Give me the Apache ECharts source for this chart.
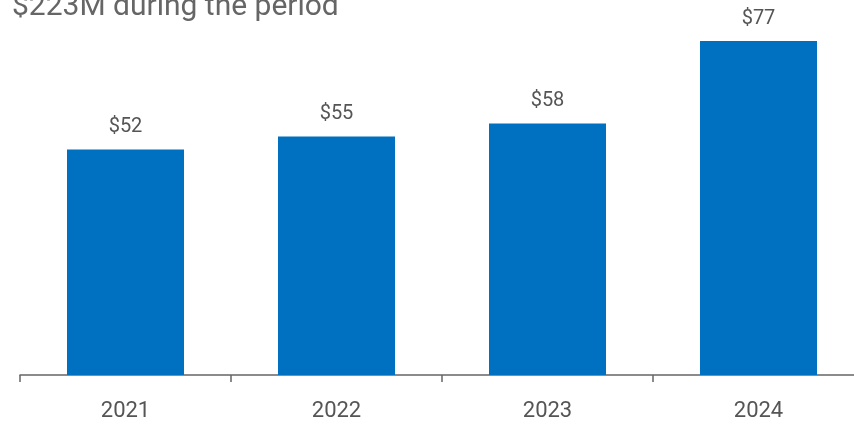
<!DOCTYPE html>
<html><head><meta charset="utf-8">
<script src="https://cdn.jsdelivr.net/npm/echarts@6/dist/echarts.min.js"></script>
<style>html,body{margin:0;padding:0;background:#fff}#c{width:854px;height:424px}</style>
</head><body><div id="c"></div>
<script>
const categories = ['2021', '2022', '2023', '2024'];
const values = [52, 55, 58, 77];
const titleText = '$223M during the period';

const chart = echarts.init(document.getElementById('c'));
chart.setOption({
  animation: false,
  graphic: [{
    type: 'text', left: 12, top: -8,
    style: { text: titleText, fontSize: 30, fill: '#666', fontFamily: 'Roboto' }
  }],
  grid: { left: 20, top: 28, width: 844, height: 347, outerBoundsMode: 'none', containLabel: false },
  xAxis: {
    type: 'category', data: categories,
    axisLine: { lineStyle: { color: '#666', width: 1.5 } },
    axisTick: { show: true, length: 7, lineStyle: { color: '#666', width: 1.5 } },
    axisLabel: { color: '#555', fontSize: 22, fontFamily: 'Roboto', margin: 25 }
  },
  yAxis: { type: 'value', min: 0, max: 80, show: false, splitLine: { show: false } },
  series: [{
    type: 'bar', data: values, barWidth: 117,
    itemStyle: { color: '#0070C0' },
    label: { show: true, position: 'top', distance: 12, formatter: p => '$' + p.value,
      color: '#555', fontSize: 20, fontFamily: 'Roboto' }
  }]
});
</script></body></html>
